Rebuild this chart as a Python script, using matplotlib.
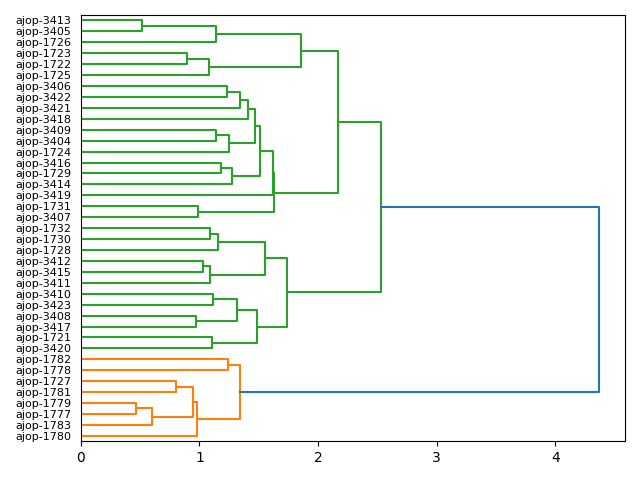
import matplotlib
matplotlib.use("Agg")
import matplotlib.pyplot as plt

# leaf labels, top to bottom as shown
labels = [
    "ajop-3413", "ajop-3405", "ajop-1726", "ajop-1723", "ajop-1722", "ajop-1725",
    "ajop-3406", "ajop-3422", "ajop-3421", "ajop-3418", "ajop-3409", "ajop-3404",
    "ajop-1724", "ajop-3416", "ajop-1729", "ajop-3414", "ajop-3419", "ajop-1731",
    "ajop-3407", "ajop-1732", "ajop-1730", "ajop-1728", "ajop-3412", "ajop-3415",
    "ajop-3411", "ajop-3410", "ajop-3423", "ajop-3408", "ajop-3417", "ajop-1721",
    "ajop-3420", "ajop-1782", "ajop-1778", "ajop-1727", "ajop-1781", "ajop-1779",
    "ajop-1777", "ajop-1783", "ajop-1780",
]

# merges: child is a leaf label (str) or an earlier merge index (int)
merge_left = [
    "ajop-3413", 0, "ajop-1723", 2, 1, "ajop-3406", 5, 6, "ajop-3409", 8,
    7, "ajop-3416", 11, 10, 13, "ajop-1731", 14, 4, "ajop-1732", 18,
    "ajop-3412", 20, 19, "ajop-3410", "ajop-3408", 23, "ajop-1721", 25, 22, 17,
    "ajop-1782", "ajop-1727", "ajop-1779", 32, 31, 34, 30, 29,
]
merge_right = [
    "ajop-3405", "ajop-1726", "ajop-1722", "ajop-1725", 3, "ajop-3422", "ajop-3421",
    "ajop-3418", "ajop-3404", "ajop-1724", 9, "ajop-1729", "ajop-3414", 12,
    "ajop-3419", "ajop-3407", 15, 16, "ajop-1730", "ajop-1728", "ajop-3415",
    "ajop-3411", 21, "ajop-3423", "ajop-3417", 24, "ajop-3420", 26, 27, 28,
    "ajop-1778", "ajop-1781", "ajop-1777", "ajop-1783", 33, "ajop-1780", 35, 36,
]
merge_height = [
    0.515, 1.139, 0.892, 1.083, 1.854, 1.230, 1.345, 1.412, 1.137, 1.252,
    1.471, 1.179, 1.272, 1.514, 1.618, 0.985, 1.632, 2.168, 1.086, 1.159,
    1.033, 1.086, 1.550, 1.117, 0.968, 1.314, 1.108, 1.483, 1.742, 2.528,
    1.238, 0.805, 0.462, 0.603, 0.943, 0.979, 1.339, 4.369,
]

n = len(labels)
leaf_y = {lab: 10 * (n - 1 - i) + 5 for i, lab in enumerate(labels)}
threshold = 0.7 * max(merge_height)


def pos(c, node_y):
    if isinstance(c, str):
        return leaf_y[c], 0.0
    return node_y[c], merge_height[c]


node_y = []
for l, r in zip(merge_left, merge_right):
    node_y.append((pos(l, node_y)[0] + pos(r, node_y)[0]) / 2)

# cluster colours: subtrees just below threshold, ordered from bottom
def leaves_of(c):
    if isinstance(c, str):
        return [c]
    return leaves_of(merge_left[c]) + leaves_of(merge_right[c])

def subtree(c):
    if isinstance(c, str):
        return []
    return [c] + subtree(merge_left[c]) + subtree(merge_right[c])

cluster_roots = []
for k, h in enumerate(merge_height):
    if h <= threshold:
        parents = [p for p in range(len(merge_height))
                   if merge_left[p] == k or merge_right[p] == k]
        if not parents or merge_height[parents[0]] > threshold:
            cluster_roots.append(k)
cluster_roots.sort(key=lambda k: min(leaf_y[x] for x in leaves_of(k)))

link_color = {}
for i, k in enumerate(cluster_roots):
    for m in subtree(k):
        link_color[m] = "C%d" % (i + 1)

fig, ax = plt.subplots(figsize=(6.4, 4.8), dpi=100)

for k, (l, r) in enumerate(zip(merge_left, merge_right)):
    yl, hl = pos(l, node_y)
    yr, hr = pos(r, node_y)
    h = merge_height[k]
    ax.plot([hl, h, h, hr], [yl, yl, yr, yr], color=link_color.get(k, "C0"),
            linewidth=1.5)

ax.set_ylim(0, 10 * n)
ax.set_xlim(0, max(merge_height) * 1.05)
ax.set_yticks([leaf_y[lab] for lab in labels])
ax.set_yticklabels(labels, fontsize=8)
# hide tick marks but keep their spacing
for line in ax.get_yticklines():
    line.set_visible(False)

plt.tight_layout()
plt.savefig("out.png")
